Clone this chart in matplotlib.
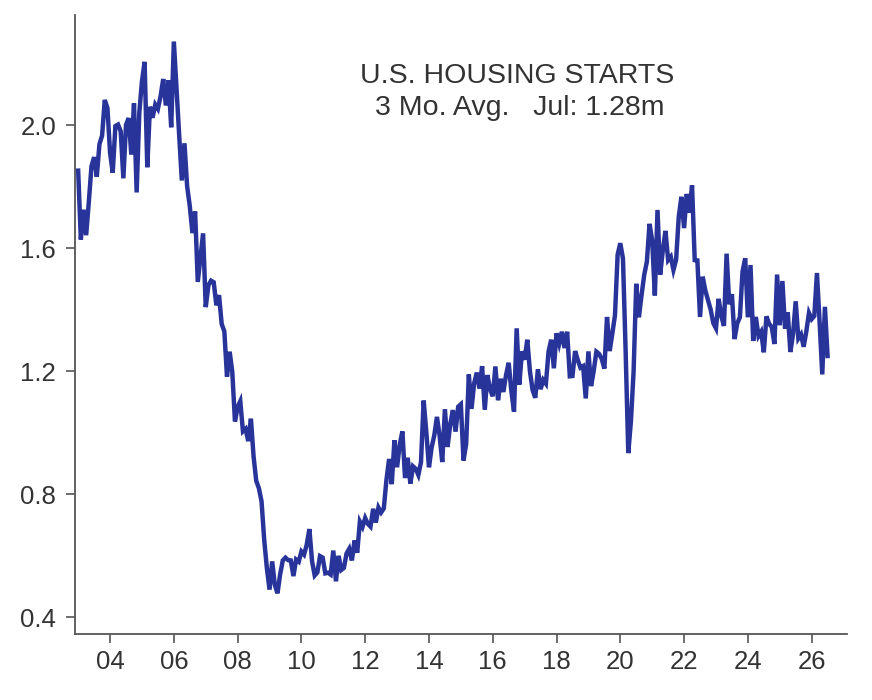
import numpy as np
import matplotlib
matplotlib.use('Agg')
import matplotlib.pyplot as plt

plt.rcParams['font.family'] = ['Liberation Sans', 'DejaVu Sans']

# monthly housing starts, millions of units (saar), Jan 2003 .. Jul 2026
starts_2003 = [1.853, 1.629, 1.726, 1.643, 1.751, 1.867, 1.897, 1.833, 1.939, 1.967, 2.083, 2.057]
starts_2004 = [1.911, 1.846, 1.998, 2.003, 1.981, 1.828, 2.002, 2.024, 1.905, 2.072, 1.782, 2.042]
starts_2005 = [2.144, 2.207, 1.864, 2.061, 2.025, 2.068, 2.054, 2.095, 2.151, 2.065, 2.147, 1.994]
starts_2006 = [2.273, 2.119, 1.969, 1.821, 1.942, 1.802, 1.737, 1.650, 1.720, 1.491, 1.570, 1.649]
starts_2007 = [1.409, 1.480, 1.495, 1.490, 1.415, 1.448, 1.354, 1.330, 1.183, 1.264, 1.197, 1.037]
starts_2008 = [1.084, 1.103, 1.005, 1.013, 0.973, 1.046, 0.923, 0.844, 0.820, 0.777, 0.652, 0.560]
starts_2009 = [0.490, 0.582, 0.505, 0.478, 0.540, 0.585, 0.594, 0.586, 0.585, 0.534, 0.588, 0.581]
starts_2010 = [0.614, 0.604, 0.636, 0.687, 0.583, 0.536, 0.546, 0.599, 0.594, 0.543, 0.545, 0.539]
starts_2011 = [0.617, 0.517, 0.600, 0.554, 0.561, 0.608, 0.623, 0.585, 0.650, 0.610, 0.711, 0.694]
starts_2012 = [0.723, 0.704, 0.695, 0.753, 0.708, 0.757, 0.741, 0.754, 0.847, 0.915, 0.833, 0.976]
starts_2013 = [0.888, 0.962, 1.005, 0.853, 0.919, 0.835, 0.891, 0.883, 0.863, 0.905, 1.105, 1.003]
starts_2014 = [0.888, 0.952, 0.992, 1.052, 0.991, 0.905, 1.077, 0.954, 1.028, 1.074, 1.004, 1.085]
starts_2015 = [1.093, 0.910, 0.964, 1.190, 1.078, 1.161, 1.196, 1.144, 1.217, 1.075, 1.188, 1.142]
starts_2016 = [1.119, 1.216, 1.106, 1.176, 1.133, 1.188, 1.228, 1.136, 1.069, 1.340, 1.157, 1.265]
starts_2017 = [1.238, 1.303, 1.200, 1.139, 1.114, 1.207, 1.142, 1.172, 1.160, 1.264, 1.303, 1.210]
starts_2018 = [1.324, 1.290, 1.329, 1.276, 1.329, 1.184, 1.185, 1.266, 1.237, 1.212, 1.217, 1.112]
starts_2019 = [1.265, 1.152, 1.202, 1.264, 1.257, 1.241, 1.209, 1.377, 1.266, 1.323, 1.383, 1.580]
starts_2020 = [1.617, 1.567, 1.269, 0.934, 1.038, 1.199, 1.485, 1.376, 1.448, 1.514, 1.557, 1.680]
starts_2021 = [1.625, 1.447, 1.725, 1.514, 1.594, 1.657, 1.562, 1.573, 1.530, 1.563, 1.703, 1.768]
starts_2022 = [1.666, 1.777, 1.716, 1.805, 1.562, 1.561, 1.377, 1.508, 1.463, 1.432, 1.401, 1.357]
starts_2023 = [1.340, 1.436, 1.380, 1.348, 1.583, 1.418, 1.451, 1.305, 1.356, 1.376, 1.525, 1.568]
starts_2024 = [1.376, 1.546, 1.299, 1.377, 1.315, 1.329, 1.262, 1.379, 1.355, 1.344, 1.289, 1.515]
starts_2025 = [1.350, 1.494, 1.339, 1.392, 1.263, 1.321, 1.428, 1.307, 1.320, 1.280, 1.330, 1.390]
starts_2026 = [1.370, 1.380, 1.520, 1.360, 1.190, 1.410, 1.250]

first_year = 2003
year_ticks = list(range(2004, 2027, 2))
tick_labels = [f"{y % 100:02d}" for y in year_ticks]
y_ticks = [0.4, 0.8, 1.2, 1.6, 2.0]

title_line1 = "U.S. HOUSING STARTS"
title_line2 = "3 Mo. Avg.   Jul: 1.28m"

values = np.array(
    starts_2003 + starts_2004 + starts_2005 + starts_2006 + starts_2007 + starts_2008
    + starts_2009 + starts_2010 + starts_2011 + starts_2012 + starts_2013 + starts_2014
    + starts_2015 + starts_2016 + starts_2017 + starts_2018 + starts_2019 + starts_2020
    + starts_2021 + starts_2022 + starts_2023 + starts_2024 + starts_2025 + starts_2026
)
t = first_year + np.arange(len(values)) / 12.0

LINE = '#28349a'
TEXT = '#333333'
SPINE = '#555555'

fig = plt.figure(figsize=(8.72, 7.0), dpi=100)
ax = fig.add_axes([0.086, 0.094, 0.885, 0.884])

ax.plot(t, values, color=LINE, lw=3.2, solid_joinstyle='miter')

ax.set_xlim(2002.9, 2027.1)
ax.set_ylim(0.345, 2.358)
ax.set_xticks(year_ticks)
ax.set_xticklabels(tick_labels)
ax.set_yticks(y_ticks)
ax.set_yticklabels([f"{v:.1f}" for v in y_ticks])

for side in ['top', 'right']:
    ax.spines[side].set_visible(False)
for side in ['left', 'bottom']:
    ax.spines[side].set_color(SPINE)
    ax.spines[side].set_linewidth(1.3)

ax.tick_params(axis='both', direction='out', length=6.5, width=1.2, color=SPINE,
               labelcolor=TEXT, labelsize=18.5)
ax.tick_params(axis='x', pad=5)
ax.tick_params(axis='y', pad=7)

fig.text(0.593, 0.891, title_line1, ha='center', va='center', fontsize=20.5, color=TEXT)
fig.text(0.596, 0.846, title_line2, ha='center', va='center', fontsize=20.5, color=TEXT)

fig.savefig('out.png', dpi=100)
